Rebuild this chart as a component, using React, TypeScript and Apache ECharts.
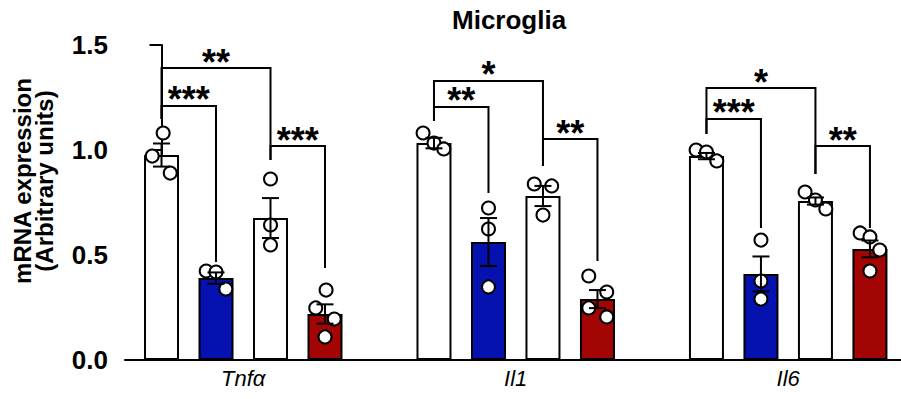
import React, { useEffect, useRef } from 'react';
import * as echarts from 'echarts';

// ---------- data ----------
const groups = ['Tnfα', 'Il1', 'Il6'];
const barColors = ['#ffffff', '#0612b0', '#ffffff', '#a30404'];

const tnfMeans = [0.976, 0.39, 0.676, 0.219];
const il1Means = [1.033, 0.562, 0.781, 0.29];
const il6Means = [0.971, 0.41, 0.757, 0.529];

const tnfSem = [0.055, 0.027, 0.095, 0.046];
const il1Sem = [0.025, 0.114, 0.048, 0.043];
const il6Sem = [0.015, 0.083, 0.017, 0.04];

const tnfPoints = [[1.081, 0.971, 0.89], [0.424, 0.419, 0.338], [0.862, 0.643, 0.548], [0.333, 0.248, 0.195, 0.11]];
const il1Points = [[1.081, 1.033, 1.005], [0.724, 0.624, 0.348], [0.838, 0.829, 0.69], [0.4, 0.324, 0.248, 0.205]];
const il6Points = [[1.0, 0.99, 0.948], [0.571, 0.376, 0.29], [0.8, 0.762, 0.719], [0.605, 0.586, 0.524, 0.424]];

const tnfJitter = [[0.03, -0.17, 0.16], [-0.18, 0, 0.18], [0, 0, 0], [0.02, -0.17, 0.17, 0]];
const il1Jitter = [[-0.2, 0, 0.18], [0, 0, 0], [-0.16, 0.16, 0], [-0.16, 0.17, -0.16, 0.17]];
const il6Jitter = [[-0.19, 0, 0.19], [0, 0, 0], [-0.19, 0, 0.19], [-0.18, 0, 0.18, 0]];

// significance brackets: [fromBar, toBar, top, leftEnd, rightEnd]
const tnfBrackets = [[0, 1, 1.21, 1.148, 0.467], [0, 2, 1.39, 1.148, 0.952], [2, 3, 1.019, 0.952, 0.438]];
const il1Brackets = [[0, 1, 1.205, 1.138, 0.795], [0, 2, 1.329, 1.138, 0.924], [2, 3, 1.052, 0.924, 0.471]];
const il6Brackets = [[0, 1, 1.148, 1.076, 0.629], [0, 2, 1.295, 1.076, 0.886], [2, 3, 1.019, 0.886, 0.629]];
const tnfStars = ['***', '**', '***'];
const il1Stars = ['**', '*', '**'];
const il6Stars = ['***', '*', '**'];

const yTicks = [0, 0.5, 1.0, 1.5];

// ---------- build ----------
const allMeans = [tnfMeans, il1Means, il6Means];
const allSem = [tnfSem, il1Sem, il6Sem];
const allPoints = [tnfPoints, il1Points, il6Points];
const allJitter = [tnfJitter, il1Jitter, il6Jitter];
const allBrackets = [tnfBrackets, il1Brackets, il6Brackets];
const allStars = [tnfStars, il1Stars, il6Stars];

const SLOTS_PER_GROUP = 5;
const slotOf = (g: number, b: number) => g * SLOTS_PER_GROUP + b;

const FONT = 'Arial, "Liberation Sans", Helvetica, sans-serif';

export default function App() {
  const ref = useRef<HTMLDivElement>(null);

  useEffect(() => {
    if (!ref.current) return;
    const chart = echarts.init(ref.current, undefined, { renderer: 'svg' });

    const barData: any[] = [];
    const errData: number[][] = [];
    const ptData: number[][] = [];
    const brData: number[][] = [];
    const brLabels: string[] = [];

    allMeans.forEach((means, g) => {
      means.forEach((m, b) => {
        const x = slotOf(g, b);
        barData.push({
          value: [x, m],
          itemStyle: { color: barColors[b], borderColor: '#000', borderWidth: 2 },
        });
        errData.push([x, m, allSem[g][b]]);
        allPoints[g][b].forEach((v, k) => {
          ptData.push([x + allJitter[g][b][k], v]);
        });
      });
      allBrackets[g].forEach((br, k) => {
        brData.push([slotOf(g, br[0]), slotOf(g, br[1]), br[2], br[3], br[4]]);
        brLabels.push(allStars[g][k]);
      });
    });

    const labelValues = groups.map((_, g) => slotOf(g, 1.5));

    const option: any = {
      animation: false,
      backgroundColor: '#ffffff',
      title: {
        text: 'Microglia',
        left: 447,
        top: 2,
        textStyle: { fontFamily: FONT, fontWeight: 'bold', fontSize: 26, color: '#000' },
      },
      graphic: [
        {
          type: 'text',
          x: 33.5,
          y: 181,
          rotation: Math.PI / 2,
          style: {
            text: 'mRNA expression\n(Arbitrary units)',
            fontFamily: FONT,
            fontWeight: 'bold',
            fontSize: 24,
            lineHeight: 22,
            fill: '#000',
            align: 'center',
            verticalAlign: 'middle',
          },
        },
      ],
      grid: { left: 125, right: 0, top: 45, bottom: 39, containLabel: false },
      xAxis: {
        type: 'value',
        min: -0.67,
        max: 13.57,
        splitLine: { show: false },
        axisTick: { show: false },
        axisLine: { show: true, lineStyle: { color: '#000', width: 2 } },
        axisLabel: {
          customValues: labelValues,
          formatter: (v: number) => {
            const i = labelValues.findIndex((lv) => Math.abs(lv - v) < 1e-6);
            return i >= 0 ? groups[i] : '';
          },
          fontFamily: '"Liberation Sans Narrow", "Arial Narrow", Arial, sans-serif',
          fontStyle: 'italic',
          fontSize: 22,
          color: '#000',
          margin: 7,
        },
      },
      yAxis: {
        type: 'value',
        min: yTicks[0],
        max: yTicks[yTicks.length - 1],
        interval: 0.5,
        splitLine: { show: false },
        axisLine: { show: true, lineStyle: { color: '#000', width: 2 } },
        axisTick: { show: true, length: 12, lineStyle: { color: '#000', width: 2 } },
        axisLabel: {
          formatter: (v: number) => v.toFixed(1),
          fontFamily: FONT,
          fontWeight: 'bold',
          fontSize: 26,
          color: '#000',
          margin: 17,
        },
      },
      series: [
        {
          type: 'bar',
          data: barData,
          barWidth: 35,
          z: 2,
        },
        {
          type: 'scatter',
          data: ptData,
          symbol: 'circle',
          symbolSize: 13,
          itemStyle: { color: '#ffffff', borderColor: '#000', borderWidth: 2, opacity: 1 },
          z: 3,
        },
        {
          type: 'custom',
          data: errData,
          z: 4,
          renderItem: (params: any, api: any) => {
            const x = api.value(0);
            const m = api.value(1);
            const s = api.value(2);
            const t = api.coord([x, m + s]);
            const b = api.coord([x, m - s]);
            const h = 8.5;
            const st = { stroke: '#000', lineWidth: 2 };
            return {
              type: 'group',
              children: [
                { type: 'line', shape: { x1: t[0], y1: t[1], x2: b[0], y2: b[1] }, style: st },
                { type: 'line', shape: { x1: t[0] - h, y1: t[1], x2: t[0] + h, y2: t[1] }, style: st },
                { type: 'line', shape: { x1: b[0] - h, y1: b[1], x2: b[0] + h, y2: b[1] }, style: st },
              ],
            };
          },
        },
        {
          type: 'custom',
          data: brData,
          z: 4,
          clip: false,
          renderItem: (params: any, api: any) => {
            const x1 = api.value(0);
            const x2 = api.value(1);
            const top = api.value(2);
            const le = api.value(3);
            const re = api.value(4);
            const pL = api.coord([x1, le]);
            const pTL = api.coord([x1, top]);
            const pTR = api.coord([x2, top]);
            const pR = api.coord([x2, re]);
            return {
              type: 'group',
              children: [
                {
                  type: 'polyline',
                  shape: { points: [pL, pTL, pTR, pR] },
                  style: { stroke: '#000', lineWidth: 2, fill: 'none' },
                },
                {
                  type: 'text',
                  x: (pTL[0] + pTR[0]) / 2,
                  y: pTL[1] - 6,
                  style: {
                    text: brLabels[params.dataIndex],
                    fill: '#000',
                    fontFamily: FONT,
                    fontWeight: 'bold',
                    fontSize: 36,
                    align: 'center',
                    verticalAlign: 'middle',
                  },
                },
              ],
            };
          },
        },
      ],
    };

    chart.setOption(option);
    return () => chart.dispose();
  }, []);

  return (
    <div
      ref={ref}
      style={{ position: 'fixed', left: 0, top: 0, width: 901, height: 399, background: '#fff' }}
    />
  );
}
